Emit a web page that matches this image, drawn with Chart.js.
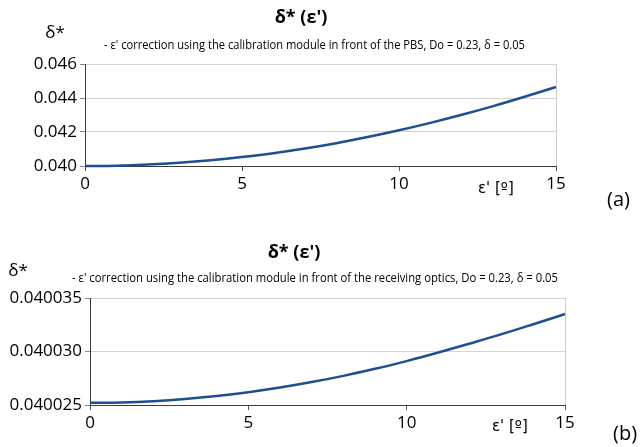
<!DOCTYPE html>
<html>
<head>
<meta charset="utf-8">
<script src="https://cdn.jsdelivr.net/npm/chart.js@4/dist/chart.umd.min.js"></script>
<style>
  html, body { margin: 0; padding: 0; background: #ffffff; }
  body { width: 640px; height: 447px; position: relative; overflow: hidden; }
  .panel { position: absolute; left: 0; width: 640px; }
  #pa { top: 0; height: 220px; }
  #pb { top: 220px; height: 227px; }
</style>
</head>
<body>
<div class="panel" id="pa"><canvas id="ca"></canvas></div>
<div class="panel" id="pb"><canvas id="cb"></canvas></div>
<script>
// ---- data ----
const epsilonDeg = [0, 1, 2, 3, 4, 5, 6, 7, 8, 9, 10, 11, 12, 13, 14, 15];

// (a) calibration module in front of the PBS
const deltaStarA = [0.040000, 0.040021, 0.040084, 0.040189, 0.040336, 0.040525, 0.040756, 0.041029,
                    0.041344, 0.041701, 0.042100, 0.042537, 0.043010, 0.043520, 0.044070, 0.044650];
const yTicksA = [0.040, 0.042, 0.044, 0.046];
const yTickLabelsA = ['0.040', '0.042', '0.044', '0.046'];

// (b) calibration module in front of the receiving optics
const deltaStarB = [0.04002520, 0.04002524, 0.04002536, 0.04002556, 0.04002584, 0.04002620,
                    0.04002663, 0.04002714, 0.04002772, 0.04002838, 0.04002910, 0.04002990,
                    0.04003075, 0.04003162, 0.04003255, 0.04003350];
const yTicksB = [0.040025, 0.040030, 0.040035];
const yTickLabelsB = ['0.040025', '0.040030', '0.040035'];

const xTicks = [0, 5, 10, 15];
const xTickLabels = ['0', '5', '10', '15'];

const titleText = "δ* (ε')";
const yTitle = 'δ*';
const xTitle = "ε' [º]";
const subtitleA = "- ε' correction using the calibration module in front of the PBS, Do = 0.23, δ = 0.05";
const subtitleB = "- ε' correction using the calibration module in front of the receiving optics, Do = 0.23, δ = 0.05";

const FONT = "'Open Sans', 'DejaVu Sans', sans-serif";
const XT_FONT = "'DejaVu Sans', sans-serif";
const LINE_COLOR = '#1d4f91';

function textPlugin(items) {
  return {
    id: 'annot',
    afterDraw(chart) {
      const ctx = chart.ctx;
      ctx.save();
      ctx.fillStyle = '#000';
      ctx.textBaseline = 'middle';
      for (const it of items) {
        ctx.font = it.font;
        ctx.textAlign = it.align || 'left';
        if (it.maxWidth) ctx.fillText(it.text, it.x, it.y, it.maxWidth);
        else ctx.fillText(it.text, it.x, it.y);
      }
      ctx.restore();
    }
  };
}

function makeChart(canvasId, values, yTicks, yLabels, pad, annots) {
  const yMin = yTicks[0], yMax = yTicks[yTicks.length - 1];
  return new Chart(document.getElementById(canvasId), {
    type: 'line',
    data: {
      datasets: [{
        data: epsilonDeg.map((x, i) => ({ x: x, y: values[i] })),
        borderColor: LINE_COLOR,
        borderWidth: 2.5,
        pointRadius: 0,
        fill: false,
        cubicInterpolationMode: 'monotone',
        clip: false
      }]
    },
    options: {
      responsive: true,
      maintainAspectRatio: false,
      animation: false,
      events: [],
      layout: { padding: pad },
      plugins: { legend: { display: false }, title: { display: false }, tooltip: { enabled: false } },
      scales: {
        x: {
          type: 'linear',
          min: 0, max: 15,
          afterBuildTicks: s => { s.ticks = xTicks.map(v => ({ value: v })); },
          afterFit: s => { s.height = 30; },
          ticks: {
            autoSkip: false, maxRotation: 0, padding: 3,
            color: '#000',
            font: { family: FONT, size: 17 },
            callback: (v) => xTickLabels[xTicks.indexOf(v)]
          },
          border: { display: true, color: '#3a3a3a', width: 1 },
          grid: {
            drawOnChartArea: true,
            tickLength: 5,
            tickColor: '#555',
            color: c => (c.index === xTicks.length - 1 ? '#cccccc' : 'rgba(0,0,0,0)')
          }
        },
        y: {
          type: 'linear',
          min: yMin, max: yMax,
          afterBuildTicks: s => { s.ticks = yTicks.map(v => ({ value: v })); },
          afterFit: s => { s.width = pad.yw; },
          ticks: {
            autoSkip: false, padding: 3,
            color: '#000',
            font: { family: FONT, size: 17 },
            callback: (v, i) => yLabels[i]
          },
          border: { display: true, color: '#3a3a3a', width: 1 },
          grid: { color: '#d4d4d4', tickLength: 5, tickColor: '#888' }
        }
      }
    },
    plugins: [textPlugin(annots)]
  });
}

makeChart('ca', deltaStarA, yTicksA, yTickLabelsA,
  { left: 0, right: 84, top: 64, bottom: 24, yw: 85 },
  [
    { text: titleText, x: 301, y: 18, font: `bold 18px ${FONT}`, align: 'center' },
    { text: yTitle, x: 55, y: 33, font: `17px ${FONT}`, align: 'center' },
    { text: subtitleA, x: 104, y: 46, font: `12px ${FONT}`, maxWidth: 421 },
    { text: xTitle, x: 478, y: 189, font: `15px ${XT_FONT}`, maxWidth: 39 },
    { text: '(a)', x: 607, y: 200, font: `20px ${FONT}` }
  ]);

makeChart('cb', deltaStarB, yTicksB, yTickLabelsB,
  { left: 0, right: 75, top: 78, bottom: 12, yw: 90 },
  [
    { text: titleText, x: 294, y: 33, font: `bold 18px ${FONT}`, align: 'center' },
    { text: yTitle, x: 18, y: 51, font: `17px ${FONT}`, align: 'center' },
    { text: subtitleB, x: 72, y: 59, font: `12px ${FONT}`, maxWidth: 486 },
    { text: xTitle, x: 492, y: 207, font: `15px ${XT_FONT}`, maxWidth: 41 },
    { text: '(b)', x: 613, y: 214, font: `20px ${FONT}` }
  ]);
</script>
</body>
</html>
